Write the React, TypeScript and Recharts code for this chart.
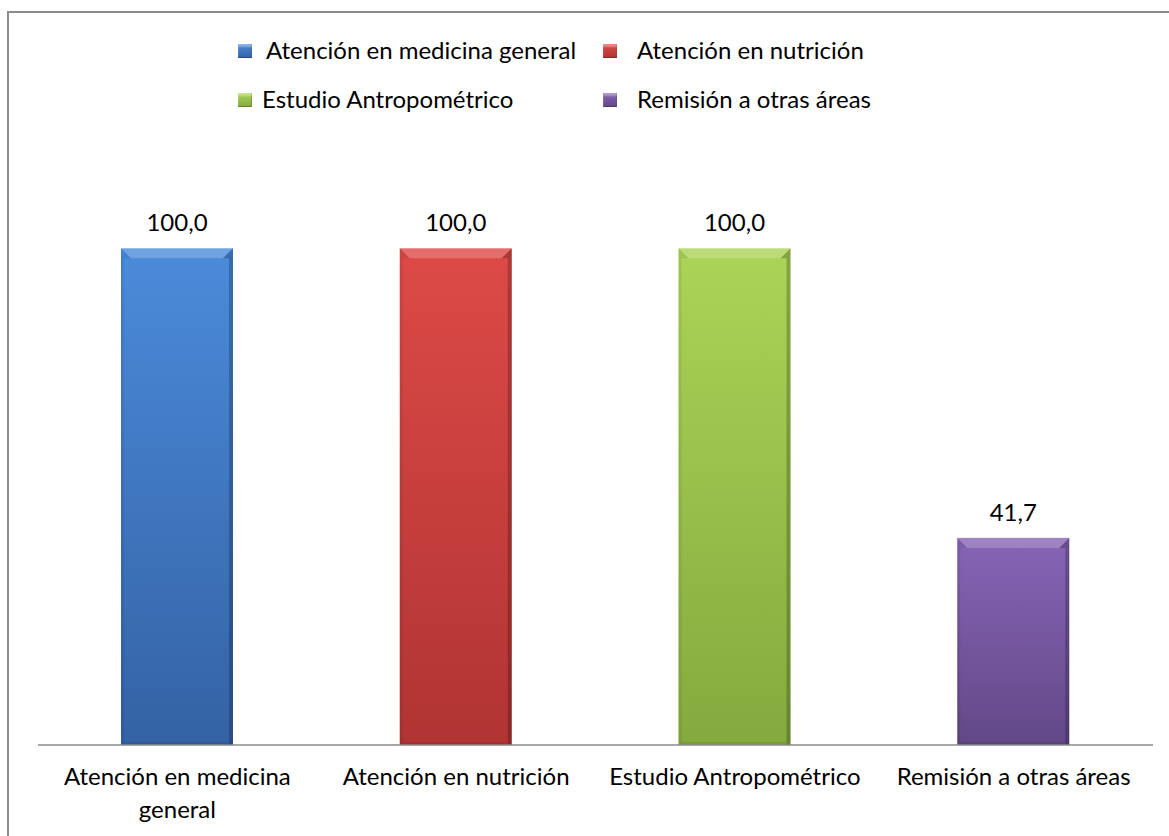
import React from 'react';
import { BarChart, Bar, XAxis, YAxis, Cell, LabelList, Legend } from 'recharts';

// Porcentaje de atención por servicio
const categories = [
  'Atención en medicina general',
  'Atención en nutrición',
  'Estudio Antropométrico',
  'Remisión a otras áreas',
];
const values = [100, 100, 100, 41.7];

const palette = [
  { top: '#4b8bda', bottom: '#3462a4', swatch: '#3f78c4' },
  { top: '#dd4a47', bottom: '#b03433', swatch: '#c43d3c' },
  { top: '#abd457', bottom: '#84aa3e', swatch: '#95bf4a' },
  { top: '#8764b6', bottom: '#624887', swatch: '#7555a0' },
];

const data = categories.map((name, i) => ({ name, value: values[i] }));

const FONT = 'Lato, "Open Sans", sans-serif';
const FONT_SIZE = 24;

const fmt = (v: number) => v.toFixed(1).replace('.', ',');

// word wrap for the category labels, measured with a canvas
const ctx = typeof document !== 'undefined' ? document.createElement('canvas').getContext('2d') : null;
function wrapLabel(text: string, maxWidth: number): string[] {
  if (!ctx) return [text];
  ctx.font = `${FONT_SIZE}px ${FONT}`;
  const words = text.split(' ');
  const lines: string[] = [];
  let cur = '';
  for (const w of words) {
    const next = cur ? `${cur} ${w}` : w;
    if (cur && ctx.measureText(next).width > maxWidth) {
      lines.push(cur);
      cur = w;
    } else {
      cur = next;
    }
  }
  if (cur) lines.push(cur);
  return lines;
}

function BevelBar(props: any) {
  const { x, y, width, height, index } = props;
  if (!height || height <= 0) return null;
  const b = Math.min(10, width / 4, height / 4);
  const r = x + width;
  const bot = y + height;
  return (
    <g>
      <rect x={x} y={y} width={width} height={height} fill={`url(#barGrad${index})`} />
      {/* top bevel */}
      <polygon
        points={`${x},${y} ${r},${y} ${r - b},${y + b} ${x + b},${y + b}`}
        fill="#ffffff"
        fillOpacity={0.2}
      />
      {/* left edge */}
      <polygon
        points={`${x},${y} ${x + b},${y + b} ${x + 3},${y + b} ${x + 3},${bot} ${x},${bot}`}
        fill="#000000"
        fillOpacity={0.07}
      />
      {/* right edge */}
      <polygon
        points={`${r},${y} ${r - b},${y + b} ${r - 4},${y + b} ${r - 4},${bot} ${r},${bot}`}
        fill="#000000"
        fillOpacity={0.22}
      />
      {/* bottom shade */}
      <rect x={x + 3} y={bot - 3} width={width - 7} height={3} fill="#000000" fillOpacity={0.08} />
    </g>
  );
}

function CategoryTick(props: any) {
  const { x, y, payload } = props;
  const lines = wrapLabel(String(payload.value), 268);
  return (
    <text
      x={x}
      y={y}
      textAnchor="middle"
      fill="#000"
      fontSize={FONT_SIZE}
      fontFamily={FONT}
    >
      {lines.map((ln, i) => (
        <tspan key={i} x={x} dy={i === 0 ? 32 : 33}>
          {ln}
        </tspan>
      ))}
    </text>
  );
}

// legend laid out in two rows of two items
const legendSlots = [
  { sq: [229, 31], tx: 257, cy: 37 },
  { sq: [594, 31], tx: 628, cy: 37 },
  { sq: [229, 80], tx: 253, cy: 86 },
  { sq: [594, 80], tx: 628, cy: 86 },
];

function LegendBlock() {
  return (
    <div style={{ position: 'relative', width: 1160, height: 130 }}>
      {categories.map((name, i) => {
        const s = legendSlots[i];
        const c = palette[i];
        return (
          <React.Fragment key={name}>
            <div
              style={{
                position: 'absolute',
                left: s.sq[0],
                top: s.sq[1],
                width: 14,
                height: 14,
                background: `linear-gradient(to bottom, ${c.top}, ${c.bottom})`,
                boxShadow: 'inset 0 3px 2px rgba(255,255,255,0.35), inset -1px -1px 1px rgba(0,0,0,0.25)',
              }}
            />
            <span
              style={{
                position: 'absolute',
                left: s.tx,
                top: s.cy - 15,
                height: 30,
                lineHeight: '30px',
                fontFamily: FONT,
                fontSize: FONT_SIZE,
                color: '#000',
                whiteSpace: 'nowrap',
              }}
            >
              {name}
            </span>
          </React.Fragment>
        );
      })}
    </div>
  );
}

export default function App() {
  return (
    <div
      style={{
        position: 'absolute',
        left: 7,
        top: 11,
        width: 1170,
        height: 840,
        borderLeft: '2px solid #8c8c8c',
        borderTop: '2px solid #8c8c8c',
        background: '#fff',
      }}
    >
      <BarChart
        width={1160}
        height={823}
        data={data}
        margin={{ top: 136, right: 16, bottom: 31, left: 29 }}
        barCategoryGap={0}
      >
        <defs>
          {palette.map((c, i) => (
            <linearGradient key={i} id={`barGrad${i}`} x1="0" y1="0" x2="0" y2="1">
              <stop offset="0%" stopColor={c.top} />
              <stop offset="100%" stopColor={c.bottom} />
            </linearGradient>
          ))}
        </defs>
        <XAxis
          dataKey="name"
          interval={0}
          height={60}
          tickLine={false}
          axisLine={{ stroke: '#8a8a8a', strokeWidth: 1.5 }}
          tick={<CategoryTick />}
        />
        <YAxis hide domain={[0, 120]} />
        <Legend
          layout="vertical"
          align="center"
          verticalAlign="middle"
          wrapperStyle={{ top: 0, left: 0, width: 1160, height: 130 }}
          content={() => <LegendBlock />}
        />
        <Bar dataKey="value" barSize={112} shape={<BevelBar />} isAnimationActive={false}>
          {data.map((d, i) => (
            <Cell key={d.name} fill={palette[i].swatch} />
          ))}
          <LabelList
            dataKey="value"
            position="top"
            offset={17}
            formatter={(v: any) => fmt(Number(v))}
            fill="#000"
            fontSize={FONT_SIZE}
            fontFamily={FONT}
          />
        </Bar>
      </BarChart>
    </div>
  );
}
